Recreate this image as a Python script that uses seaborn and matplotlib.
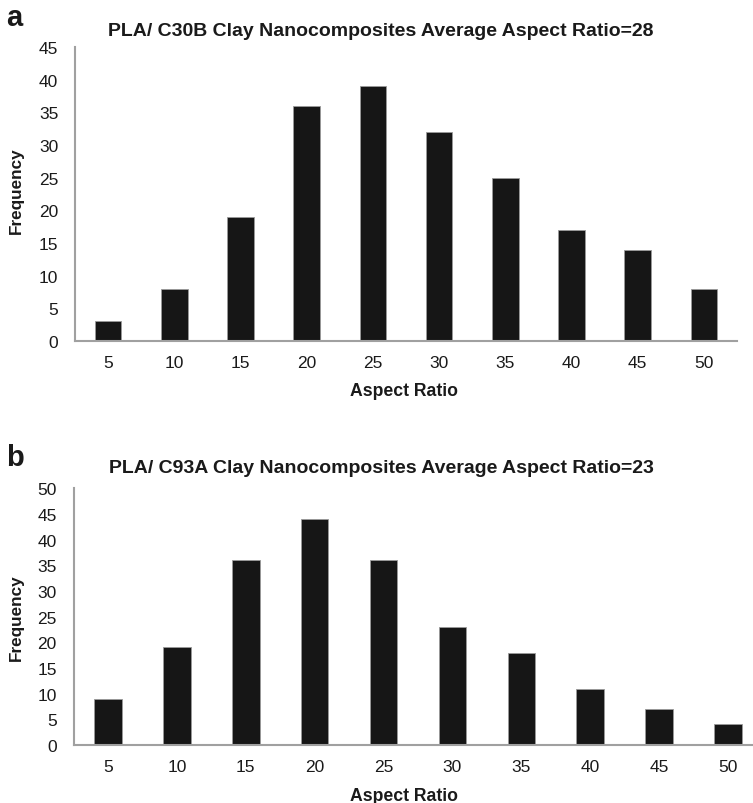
import matplotlib
matplotlib.use("Agg")
import matplotlib.pyplot as plt
import seaborn as sns

categories = ["5", "10", "15", "20", "25", "30", "35", "40", "45", "50"]
freq_c30b = [3, 8, 19, 36, 39, 32, 25, 17, 14, 8]
freq_c93a = [9, 19, 36, 44, 36, 23, 18, 11, 7, 4]
title_a = "PLA/ C30B Clay Nanocomposites Average Aspect Ratio=28"
title_b = "PLA/ C93A Clay Nanocomposites Average Aspect Ratio=23"
yticks_a = list(range(0, 50, 5))
yticks_b = list(range(0, 55, 5))

sns.set_style("white")
plt.rcParams["font.family"] = ["Liberation Sans", "DejaVu Sans"]

W, H = 753, 804
fig = plt.figure(figsize=(W / 100, H / 100), dpi=100)

def px_axes(l, r, t, b):
    return fig.add_axes([l / W, 1 - b / H, (r - l) / W, (b - t) / H])

ax1 = px_axes(75, 737, 48, 342)
ax2 = px_axes(73.5, 762.5, 489.3, 746)

bar_color = "#161616"
spine_color = "#a0a0a0"

for ax, vals, yt, title, ty, lab, ly, xly, xl_y in [
    (ax1, freq_c30b, yticks_a, title_a, 32, "a", 18, 392, 191),
    (ax2, freq_c93a, yticks_b, title_b, 469, "b", 458, 797, 618),
]:
    sns.barplot(x=categories, y=vals, ax=ax, color=bar_color, saturation=1,
                width=0.4, edgecolor="#9a9a9a", linewidth=0.6)
    ax.set_xlim(-0.5, 9.5)
    ax.set_ylim(0, yt[-1])
    ax.set_yticks(yt)
    ax.set_yticklabels([str(v) for v in yt])
    for s in ["top", "right"]:
        ax.spines[s].set_visible(False)
    for s in ["left", "bottom"]:
        ax.spines[s].set_color(spine_color)
        ax.spines[s].set_linewidth(1.5)
    ax.tick_params(axis="both", length=0, labelsize=12.5, colors="#1a1a1a")
    ax.tick_params(axis="y", pad=12)
    ax.tick_params(axis="x", pad=10)
    ax.set_xlabel("")
    ax.set_ylabel("")
    ax.grid(False)
    fig.text(381 / W, 1 - ty / H, title, ha="center", va="center",
             fontsize=14, fontweight="bold", color="#1a1a1a")
    fig.text(6 / W, 1 - ly / H, lab, ha="left", va="center",
             fontsize=21, fontweight="bold", color="#1a1a1a")
    fig.text(404 / W, 1 - xly / H, "Aspect Ratio", ha="center", va="center",
             fontsize=12.7, fontweight="bold", color="#1a1a1a")
    fig.text(16 / W, 1 - xl_y / H, "Frequency", ha="center", va="center",
             rotation=90, fontsize=12.3, fontweight="bold", color="#1a1a1a")

fig.savefig("out.png", dpi=100)
